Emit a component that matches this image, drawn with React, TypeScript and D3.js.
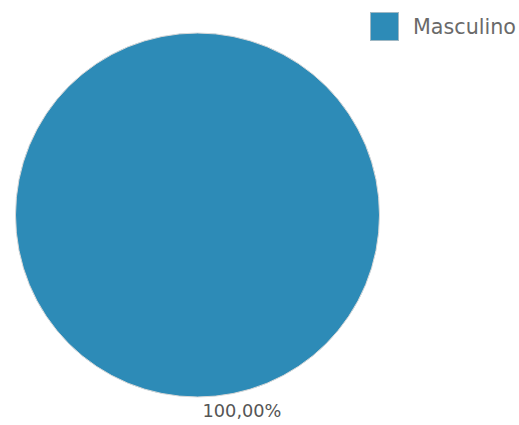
import * as d3 from 'd3';
import { useMemo } from 'react';

const categories = ['Masculino'];
const values = [100];
const colors = ['#2d8bb7'];

const width = 519;
const height = 425;

export default function App() {
  const cx = 197.5;
  const cy = 215;
  const radius = 182;

  const slices = useMemo(() => {
    const pie = d3.pie<number>().sort(null).value(d => d);
    return pie(values);
  }, []);

  const total = d3.sum(values);
  const arc = d3.arc<d3.PieArcDatum<number>>().innerRadius(0).outerRadius(radius);
  const labelArc = d3.arc<d3.PieArcDatum<number>>().innerRadius(radius + 14).outerRadius(radius + 14);
  const fmt = (v: number) => d3.format('.2f')(v).replace('.', ',') + '%';

  return (
    <svg
      width={width}
      height={height}
      style={{ position: 'absolute', left: 0, top: 0 }}
      fontFamily="DejaVu Sans, sans-serif"
    >
      <g transform={`translate(${cx},${cy})`}>
        {slices.map((s, i) => (
          <path key={i} d={arc(s) ?? ''} fill={colors[i]} stroke="#d8d8d8" strokeWidth={1} />
        ))}
        {slices.map((s, i) => {
          const [lx, ly] = labelArc.centroid(s);
          return (
            <text
              key={`l${i}`}
              x={lx + 5}
              y={ly}
              dy="0.35em"
              fontSize={18}
              fill="#555"
              textAnchor="start"
              textLength={79}
              lengthAdjust="spacingAndGlyphs"
            >
              {fmt((s.data / total) * 100)}
            </text>
          );
        })}
      </g>
      <g>
        {categories.map((c, i) => (
          <g key={c} transform={`translate(370,${12 + i * 34})`}>
            <rect x={0.5} y={0.5} width={28} height={28} fill={colors[i]} stroke="#9fb8c4" strokeWidth={1} />
            <text x={43} y={15} dy="0.35em" fontSize={21} fill="#6a6a6a" textLength={103} lengthAdjust="spacingAndGlyphs">
              {c}
            </text>
          </g>
        ))}
      </g>
    </svg>
  );
}
